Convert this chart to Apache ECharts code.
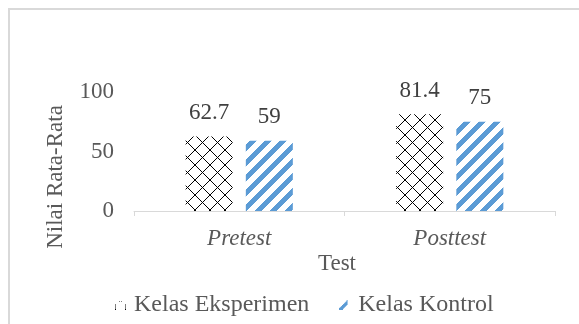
<!DOCTYPE html>
<html>
<head>
<meta charset="utf-8">
<script src="https://cdn.jsdelivr.net/npm/echarts@6/dist/echarts.min.js"></script>
<style>
html,body{margin:0;padding:0;background:#fff;}
#c{width:579px;height:324px;}
</style>
</head>
<body>
<div id="c"></div>
<script>
var categories = ['Pretest', 'Posttest'];
var eksperimen = [62.7, 81.4];
var kontrol = [59, 75];
var yTicks = [0, 50, 100];

function makeTile(w, h, fn) {
  var cv = document.createElement('canvas');
  cv.width = w; cv.height = h;
  var ctx = cv.getContext('2d');
  var img = ctx.createImageData(w, h);
  for (var y = 0; y < h; y++) {
    for (var x = 0; x < w; x++) {
      var c = fn(x, y);
      var i = (y * w + x) * 4;
      img.data[i] = c[0]; img.data[i+1] = c[1]; img.data[i+2] = c[2]; img.data[i+3] = c[3] === undefined ? 255 : c[3];
    }
  }
  ctx.putImageData(img, 0, 0);
  return cv;
}
var crossTile = makeTile(15, 15, function (x, y) {
  return (x === y || x === 14 - y) ? [0, 0, 0] : [255, 255, 255];
});
var stripeTile = makeTile(15, 15, function (x, y) {
  return ((x + y) % 15) < 7 ? [91, 155, 213] : [255, 255, 255];
});
// legend icons
var eksIcon = makeTile(11, 9, function (x, y) {
  var onShape = (y === 0 && x >= 3 && x <= 7) ||
                (y >= 1 && y <= 3 && (x === 3 - y || x === 7 + y)) ||
                (y >= 4 && (x === 0 || x === 10));
  return (onShape && (x + y) % 2 === 0) ? [0, 0, 0, 255] : [255, 255, 255, 0];
}).toDataURL();
var konIcon = makeTile(12, 10, function (x, y) {
  var d = (x + y);
  var blue = (d >= 8 && d <= 12 && x <= 8) || (d >= 13 && d <= 14 && x >= 10 && y >= 8);
  return blue ? [91, 155, 213, 255] : [255, 255, 255, 0];
}).toDataURL();

var font = 'Liberation Serif';
var chart = echarts.init(document.getElementById('c'));
chart.setOption({
  animation: false,
  backgroundColor: '#fff',
  grid: { left: 134, right: 24, top: 92, bottom: 113 },
  graphic: [
    { type: 'rect', shape: { x: 9, y: 9, width: 620, height: 400 },
      style: { fill: 'none', stroke: '#d9d9d9', lineWidth: 2 } },
    { type: 'text', x: 56, y: 177, rotation: Math.PI / 2,
      style: { text: 'Nilai Rata-Rata', font: '23px "Liberation Serif"', fill: '#595959',
        textAlign: 'center', textVerticalAlign: 'middle' } },
    { type: 'text', x: 337, y: 264,
      style: { text: 'Test', font: '23px "Liberation Serif"', fill: '#595959',
        textAlign: 'center', textVerticalAlign: 'middle' } }
  ],
  legend: {
    left: 110, top: 288,
    itemWidth: 11, itemHeight: 10, itemGap: 30,
    textStyle: { fontFamily: font, fontSize: 24, color: '#595959', padding: [0, 0, 0, 3] },
    data: [
      { name: 'Kelas Eksperimen', icon: 'image://' + eksIcon },
      { name: 'Kelas Kontrol', icon: 'image://' + konIcon }
    ]
  },
  xAxis: {
    type: 'category',
    data: categories,
    axisLine: { lineStyle: { color: '#d9d9d9', width: 1 } },
    axisTick: { show: true, length: 5, lineStyle: { color: '#d9d9d9' } },
    axisLabel: { fontFamily: font, fontSize: 23, fontStyle: 'italic', color: '#595959', margin: 16 }
  },
  yAxis: {
    type: 'value',
    min: yTicks[0], max: yTicks[yTicks.length - 1], interval: 50,
    splitLine: { show: false },
    axisLine: { show: false },
    axisTick: { show: false },
    axisLabel: { fontFamily: font, fontSize: 23, color: '#595959', margin: 20 }
  },
  series: [
    { name: 'Kelas Eksperimen', type: 'bar', data: eksperimen, barWidth: 47, barGap: '28%',
      itemStyle: { color: { image: crossTile, repeat: 'repeat' } },
      label: { show: true, position: 'top', distance: 12, fontFamily: font, fontSize: 23, color: '#404040' } },
    { name: 'Kelas Kontrol', type: 'bar', data: kontrol, barWidth: 47, barGap: '28%',
      itemStyle: { color: { image: stripeTile, repeat: 'repeat' } },
      label: { show: true, position: 'top', distance: 12, fontFamily: font, fontSize: 23, color: '#404040' } }
  ]
});
</script>
</body>
</html>
